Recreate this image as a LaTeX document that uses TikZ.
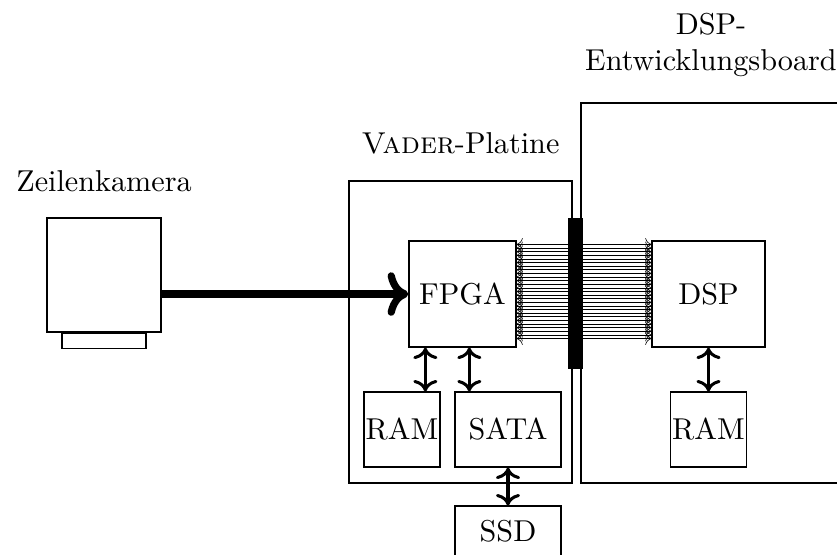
\documentclass[tikz,border=0pt]{standalone}
\usepackage{tikz}
\usetikzlibrary{positioning, arrows.meta, calc}

\begin{document}
\begin{tikzpicture}[
    box/.style={draw, inner sep=0pt},
    link/.style={line width=1pt, <->},
    feed/.style={line width=2.4pt, ->},
    busline/.style={line width=0.2pt, <->}
  ]
  \clip (0,0) rectangle (9.744,6.461);

  % Kamera
  \node[box, minimum width=1.327cm, minimum height=1.327cm] (cam) at (1.211,3.260) {};
  \node[box, minimum width=0.978cm, minimum height=0.175cm, anchor=north] (lens) at (cam.south) {};
  \node[above=5pt of cam] (camlabel) {Zeilenkamera};

  % Platinen
  \node[box, minimum width=2.596cm, minimum height=3.516cm] (vader) at (5.361,2.596) {};
  \node[above=5pt of vader] (vaderlabel) {\textsc{Vader}-Platine};
  \node[box, minimum width=3.027cm, minimum height=4.424cm] (board) at (8.277,3.050) {};
  \node[above=5pt of board, align=center] (boardlabel) {DSP-\\Entwicklungsboard};

  % Bausteine
  \node[box, minimum width=1.246cm, minimum height=1.234cm] (fpga) at (5.384,3.038) {FPGA};
  \node[box, minimum width=0.885cm, minimum height=0.873cm] (ram1) at (4.680,1.461) {RAM};
  \node[box, minimum width=1.234cm, minimum height=0.873cm] (sata) at (5.914,1.461) {SATA};
  \node[box, minimum width=1.234cm, minimum height=0.59cm] (ssd) at (5.914,0.275) {SSD};
  \node[box, minimum width=1.315cm, minimum height=1.234cm] (dsp) at (8.248,3.038) {DSP};
  \node[box, minimum width=0.885cm, minimum height=0.873cm] (ram2) at (8.248,1.461) {RAM};

  % Bus
  \foreach \i in {0,...,26}
    \draw[busline] ([yshift={-0.047cm-\i*0.0421cm}]fpga.north east) -- ([yshift={-0.047cm-\i*0.0421cm}]dsp.north west);
  \node[fill=black, inner sep=0pt, minimum width=0.175cm, minimum height=1.758cm] (conn) at (6.700,3.044) {};

  % Verbindungen
  \coordinate (f1) at ([xshift=0.198cm]fpga.south west);
  \coordinate (f2) at ([xshift=0.71cm]fpga.south west);
  \draw[feed] (cam.east |- fpga.west) -- (fpga.west);
  \draw[link] (f1) -- (f1 |- ram1.north);
  \draw[link] (f2) -- (f2 |- sata.north);
  \draw[link] (sata.south) -- (ssd.north);
  \draw[link] (dsp.south) -- (ram2.north);
\end{tikzpicture}
\end{document}
